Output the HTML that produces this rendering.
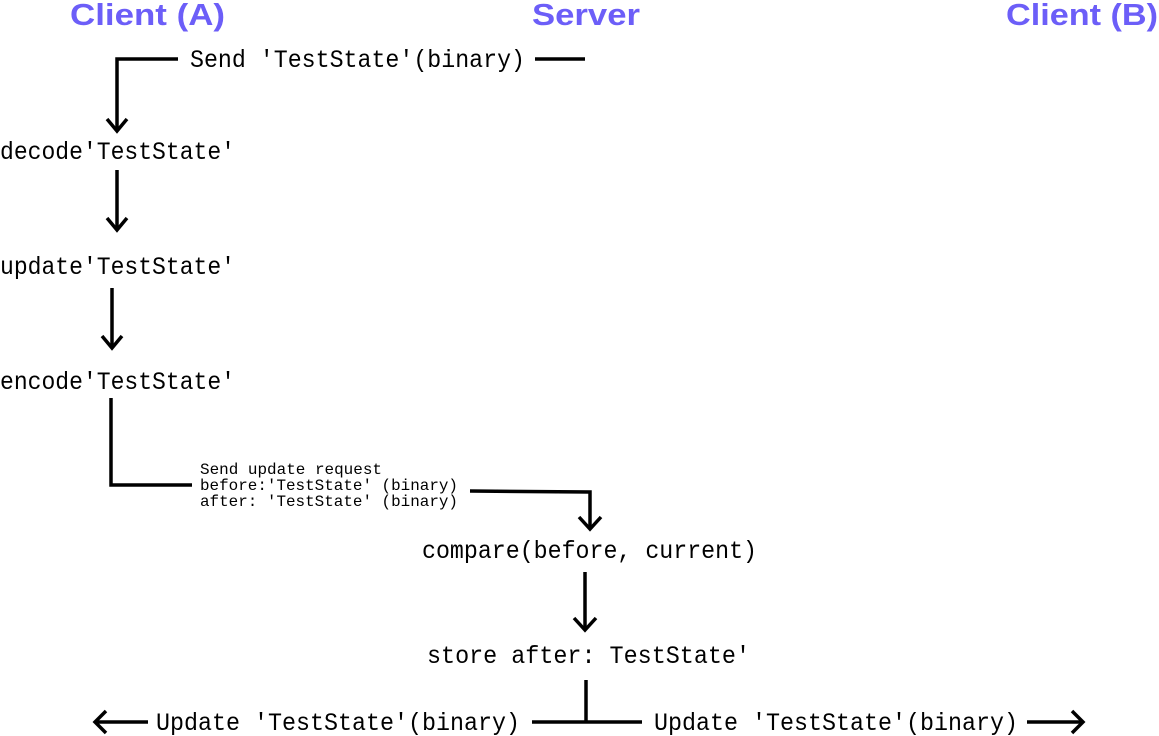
<!DOCTYPE html>
<html><head><meta charset="utf-8"><style>
html,body{margin:0;padding:0;background:#fff;}
svg{display:block;}
.m{font-family:"Liberation Mono",monospace;font-size:25px;fill:#000;}
.s{font-family:"Liberation Mono",monospace;font-size:16px;fill:#000;}
.h{font-family:"Liberation Sans",sans-serif;font-weight:bold;font-size:31px;fill:#6c5ef8;}
path,line{stroke:#000;stroke-width:3.5;fill:none;}
</style></head><body>
<svg width="1159" height="736" viewBox="0 0 1159 736">
<text class="h" x="70" y="25" textLength="155" lengthAdjust="spacingAndGlyphs">Client (A)</text>
<text class="h" x="532" y="25" textLength="108" lengthAdjust="spacingAndGlyphs">Server</text>
<text class="h" x="1006" y="25" textLength="152" lengthAdjust="spacingAndGlyphs">Client (B)</text>

<text class="m" x="190" y="67" textLength="335" lengthAdjust="spacingAndGlyphs">Send 'TestState'(binary)</text>
<path d="M178 59 H117 V130"/>
<path d="M107 119 L117 131 L127 119"/>
<line x1="535" y1="59" x2="585" y2="59"/>

<text class="m" x="0" y="159" textLength="235" lengthAdjust="spacingAndGlyphs">decode'TestState'</text>
<line x1="117" y1="170" x2="117" y2="229"/>
<path d="M107 218 L117 230 L127 218"/>

<text class="m" x="0" y="274" textLength="235" lengthAdjust="spacingAndGlyphs">update'TestState'</text>
<line x1="112" y1="288" x2="112" y2="347"/>
<path d="M102 336 L112 348 L122 336"/>

<text class="m" x="0" y="389" textLength="235" lengthAdjust="spacingAndGlyphs">encode'TestState'</text>
<path d="M111 398 V485 H192"/>

<text class="s" x="200" y="474" textLength="182" lengthAdjust="spacingAndGlyphs">Send update request</text>
<text class="s" x="200" y="490" textLength="258" lengthAdjust="spacingAndGlyphs">before:'TestState' (binary)</text>
<text class="s" x="200" y="506" textLength="258" lengthAdjust="spacingAndGlyphs">after: 'TestState' (binary)</text>
<path d="M470 491 L590 492 V528"/>
<path d="M579 517 L590 529 L601 517"/>

<text class="m" x="422" y="558" textLength="335" lengthAdjust="spacingAndGlyphs">compare(before, current)</text>
<line x1="585" y1="572" x2="585" y2="629"/>
<path d="M574 618 L585 630 L596 618"/>

<text class="m" x="427" y="663" textLength="323" lengthAdjust="spacingAndGlyphs">store after: TestState'</text>
<line x1="586" y1="680" x2="586" y2="722"/>
<line x1="532" y1="722" x2="642" y2="722"/>

<text class="m" x="156" y="730" textLength="364" lengthAdjust="spacingAndGlyphs">Update 'TestState'(binary)</text>
<line x1="96" y1="722" x2="148" y2="722"/>
<path d="M106 711 L95 722 L106 733"/>

<text class="m" x="654" y="730" textLength="364" lengthAdjust="spacingAndGlyphs">Update 'TestState'(binary)</text>
<line x1="1027" y1="722" x2="1082" y2="722"/>
<path d="M1072 711 L1083 722 L1072 733"/>
</svg>
</body></html>
